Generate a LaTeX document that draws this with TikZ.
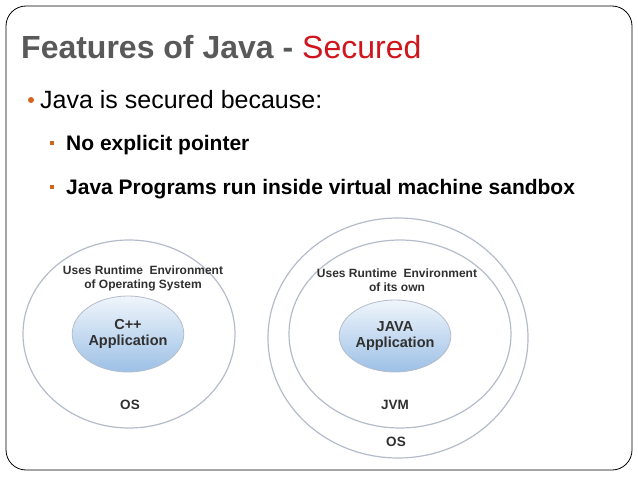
\documentclass[tikz,border=0pt]{standalone}
\usepackage{fontspec}
\setmainfont{Liberation Sans}
\usetikzlibrary{shapes.geometric}
\definecolor{ttl}{HTML}{595959}
\definecolor{red1}{HTML}{D0161C}
\definecolor{bul}{HTML}{D3641E}
\definecolor{ring}{HTML}{B4BCCB}
\definecolor{appb}{HTML}{9CC0E6}
\definecolor{lbl}{HTML}{303030}
\tikzset{
 ring/.style={draw=ring,line width=1.2pt,ellipse},
 app/.style={draw=ring,line width=0.8pt,ellipse,top color=white!85!appb,bottom color=appb,align=center,font=\bfseries\fontsize{14.5}{16}\selectfont,text=lbl,inner sep=0},
 lab/.style={align=center,font=\bfseries\fontsize{12}{14}\selectfont,text=lbl},
 oslab/.style={lab,font=\bfseries\fontsize{13.5}{14}\selectfont},
}
\begin{document}
\begin{tikzpicture}[x=1pt,y=-1pt]
\useasboundingbox (0,0) rectangle (638,479);
\fill[white] (0,0) rectangle (638,479);
\draw[line width=0.8pt,rounded corners=20pt] (6,6) rectangle (632,470);
\node[anchor=base west,font=\bfseries\fontsize{32}{34}\selectfont,text=ttl,inner sep=0] (title) at (21,58) {Features of Java - \textcolor{red1}{\mdseries Secured}};
\node[circle,fill=bul,inner sep=0,minimum size=6pt] (b1) at (31,100) {};
\node[anchor=base west,font=\fontsize{25}{28}\selectfont,inner sep=0] (t1) at (40,108) {Java is secured because:};
\node[fill=bul,inner sep=0,minimum size=4pt] (b2) at (52,143) {};
\node[anchor=base west,font=\bfseries\fontsize{21}{24}\selectfont,inner sep=0] (t2) at (66,150) {No explicit pointer};
\node[fill=bul,inner sep=0,minimum size=4pt] (b3) at (52,187) {};
\node[anchor=base west,font=\bfseries\fontsize{21}{24}\selectfont,inner sep=0] (t3) at (66,194) {Java Programs run inside virtual machine sandbox};
% left
\node[ring,minimum width=212pt,minimum height=188pt] (los) at (129,334) {};
\node[app,minimum width=94pt,minimum height=76pt] (capp) at (128,334) {C++\\Application};
\node[lab] (lt) at (143,278) {Uses Runtime\ \ Environment\\of Operating System};
\node[oslab] (los1) at (130,405) {OS};
% right
\node[ring,minimum width=260pt,minimum height=240pt] (ros) at (398,338) {};
\node[ring,minimum width=222pt,minimum height=188pt] (jvm) at (400,334) {};
\node[app,minimum width=100pt,minimum height=72pt] (japp) at (395,336) {JAVA\\Application};
\node[lab] (rt) at (397,280) {Uses Runtime\ \ Environment\\of its own};
\node[oslab] (jl) at (395,405) {JVM};
\node[oslab] (ol) at (396,442) {OS};
\end{tikzpicture}
\end{document}
